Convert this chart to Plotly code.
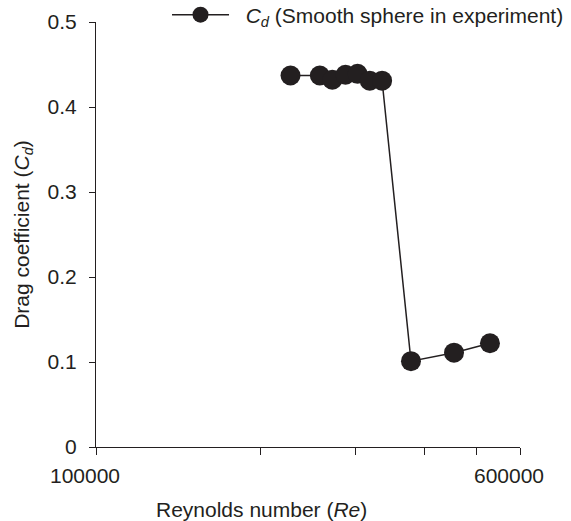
import plotly.graph_objects as go

reynolds = [227500, 257500, 271500, 287000, 302000, 318000, 335000, 378500, 454000, 528500]
drag_cd = [0.437, 0.437, 0.432, 0.438, 0.439, 0.431, 0.431, 0.101, 0.111, 0.122]

x_tickvals = [100000, 200000, 300000, 400000, 500000, 600000]
x_ticktext = ["100000", "", "", "", "", "600000"]
y_tickvals = [0, 0.1, 0.2, 0.3, 0.4, 0.5]
y_ticktext = ["0", "0.1", "0.2", "0.3", "0.4", "0.5"]

ink = "#231f20"
font = "Liberation Sans, Arial, Helvetica, sans-serif"

fig = go.Figure()
fig.add_trace(go.Scatter(
    x=reynolds, y=drag_cd, mode="lines+markers",
    name="&nbsp;&nbsp;<i>C</i><sub><i>d</i></sub> (Smooth sphere in experiment)",
    line=dict(color=ink, width=1.5),
    marker=dict(color=ink, size=20, line=dict(width=0)),
    cliponaxis=False,
))

fig.update_layout(
    width=571, height=521,
    margin=dict(l=96, r=51, t=22, b=74, autoexpand=False),
    paper_bgcolor="white", plot_bgcolor="white",
    font=dict(family=font, size=21, color=ink),
    showlegend=True,
    legend=dict(x=0.1675, y=1.0165, xanchor="left", yanchor="middle",
                bgcolor="rgba(0,0,0,0)", itemwidth=57,
                font=dict(size=21, color=ink)),
    xaxis=dict(type="log", range=[5, 5.77815125],
               tickvals=x_tickvals, ticktext=x_ticktext,
               showline=True, linecolor=ink, linewidth=1,
               ticks="outside", ticklen=7, tickcolor=ink, tickwidth=1,
               ticklabelshift=-11, ticklabelstandoff=3,
               showgrid=False, zeroline=False),
    yaxis=dict(range=[0, 0.5], tickvals=y_tickvals, ticktext=y_ticktext,
               showline=True, linecolor=ink, linewidth=1,
               ticks="outside", ticklen=6, tickcolor=ink, tickwidth=1,
               ticklabelstandoff=8,
               showgrid=False, zeroline=False,
               title=dict(text="Drag coefficient (<i>C</i><sub><i>d</i></sub>)",
                          font=dict(size=21), standoff=12)),
    annotations=[dict(text="Reynolds number (<i>Re</i>)", xref="paper", yref="paper",
                      x=0.39, y=-0.148, xanchor="center", yanchor="middle",
                      showarrow=False, font=dict(size=21, color=ink))],
)

fig.write_html("out.html", config={"displayModeBar": False},
               post_script="document.body.style.margin='0';document.body.style.overflow='hidden';")
